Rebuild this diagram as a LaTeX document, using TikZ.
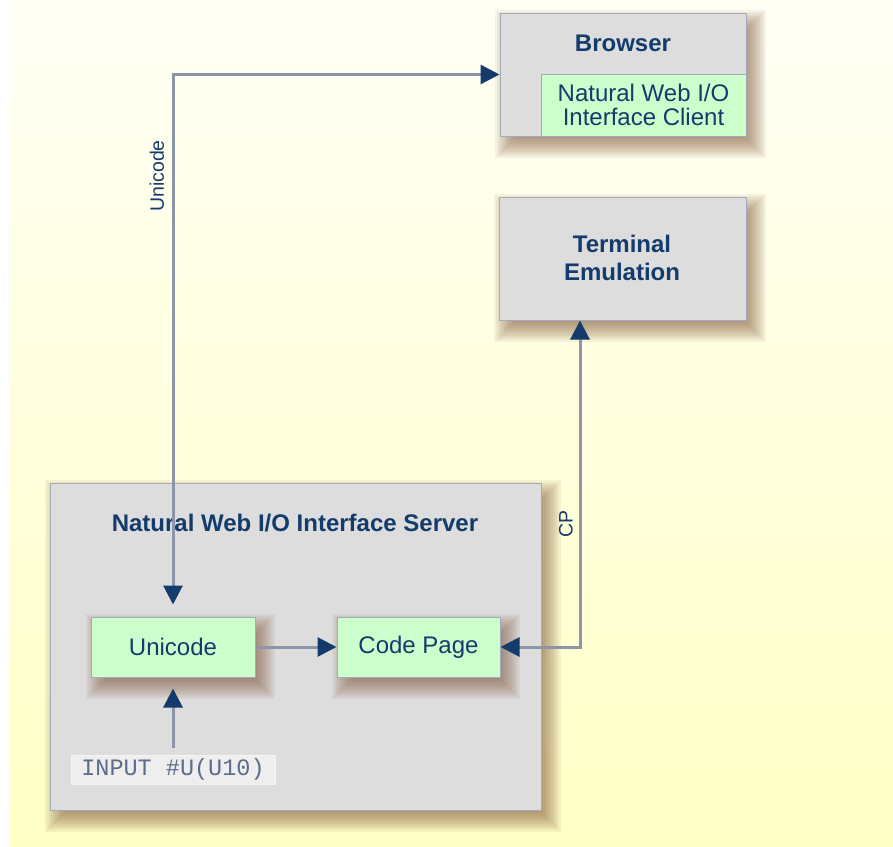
\documentclass[tikz,border=0pt]{standalone}
\usepackage{fontspec}
\setmainfont{Liberation Sans}
\setmonofont{Liberation Mono}
\usetikzlibrary{arrows.meta}
\pgfdeclarelayer{back}
\pgfdeclarelayer{shadowa}
\pgfdeclarelayer{mid}
\pgfdeclarelayer{shadowb}
\pgfsetlayers{back,shadowa,mid,shadowb,main}
\definecolor{navy}{HTML}{133B6B}
\definecolor{boxgray}{HTML}{DDDDDD}
\definecolor{boxgreen}{HTML}{CCFFCC}
\definecolor{edgegray}{HTML}{A3ABBB}
\definecolor{linegray}{HTML}{8D96A8}
\definecolor{bgtop}{HTML}{FFFFF6}
\definecolor{bgbot}{HTML}{FFFFC6}
\definecolor{monotext}{HTML}{5E6C8C}
\definecolor{inputfill}{HTML}{EEEEEE}
\definecolor{shadowbrown}{HTML}{7A4B2E}
\tikzset{
  graybox/.style={draw=edgegray, line width=1pt, fill=boxgray, rectangle, inner sep=0pt},
  greenbox/.style={draw=edgegray, line width=1pt, fill=boxgreen, rectangle, inner sep=0pt,
    font=\fontsize{24}{24}\selectfont, text=navy, align=center},
  titletext/.style={text=navy, font=\bfseries\fontsize{24}{28}\selectfont, align=center, inner sep=0pt},
  lab/.style={text=navy, font=\fontsize{19.5}{20}\selectfont, inner sep=0pt},
  conn/.style={draw=linegray, line width=3pt},
  shadowstep/.style={fill=shadowbrown, opacity=0.07},
  tipsty/.tip={Triangle[length=19pt, width=19pt, color=navy]}
}
\newcommand{\softshadow}[2]{%
  \begin{pgfonlayer}{#1}
  \foreach \k in {0,...,12}{%
    \pgfmathsetmacro{\grw}{12-2*\k}%
    \pgfmathsetmacro{\axa}{7-\grw}%
    \pgfmathsetmacro{\aya}{-9+\grw}%
    \pgfmathsetmacro{\axb}{7+\grw}%
    \pgfmathsetmacro{\ayb}{-9-\grw}%
    \fill[shadowstep] ([xshift=\axa pt, yshift=\aya pt]#2.north west) rectangle ([xshift=\axb pt, yshift=\ayb pt]#2.south east);
  }
  \end{pgfonlayer}}
\begin{document}
\begin{tikzpicture}[x=1pt,y=-1pt]
\useasboundingbox (0,0) rectangle (893,846);
\begin{pgfonlayer}{back}
\fill[top color=bgtop, bottom color=bgbot] (9,0) rectangle (893,846);
\end{pgfonlayer}

% server
\begin{pgfonlayer}{mid}
\node[graybox, minimum width=491pt, minimum height=327pt] (server) at (295.5,646.5) {};
\end{pgfonlayer}
\softshadow{shadowa}{server}
\node[titletext] (servertitle) at (295,523) {Natural Web I/O Interface Server};

\node[greenbox, minimum width=164pt, minimum height=60pt] (unicode) at (173,647) {Unicode};
\softshadow{shadowb}{unicode}
\node[greenbox, minimum width=163pt, minimum height=60pt] (codepage) at (418.5,647) {Code Page};
\softshadow{shadowb}{codepage}
\node[draw=white!92!gray, line width=1pt, fill=inputfill, inner sep=0pt, minimum width=204pt, minimum height=29pt,
      text=monotext, font=\ttfamily\fontsize{23.5}{23.5}\selectfont] (input) at (173,769.5) {INPUT \#U(U10)};

% browser
\node[graybox, minimum width=246pt, minimum height=123pt] (browser) at (623,74.5) {};
\softshadow{shadowa}{browser}
\node[titletext] (browsertitle) at (623,43) {Browser};
\node[greenbox, minimum width=205pt, minimum height=62pt] (client) at (643.5,105)
  {Natural Web I/O\\[0pt]Interface Client};

% terminal
\node[graybox, minimum width=247pt, minimum height=123pt] (terminal) at (622.5,258.5) {};
\softshadow{shadowa}{terminal}
\node[titletext] (terminaltitle) at (622,258) {Terminal\\Emulation};

% connectors
\draw[conn, {tipsty}-{tipsty}, shorten <=12pt] (unicode.north) |- (browser.west);
\draw[conn, -{tipsty}] (unicode.east) -- (codepage.west);
\draw[conn, -{tipsty}, shorten <=7pt, shorten >=11pt] (input.north) -- (unicode.south);
\coordinate (cpup) at ([xshift=-42.5pt]terminal.south);
\draw[conn, {tipsty}-{tipsty}] (codepage.east) -| (cpup);

% labels
\node[lab, rotate=90] (unilab) at (157,176) {Unicode};
\node[lab, rotate=90] (cplab) at (566,524) {CP};
\end{tikzpicture}
\end{document}
